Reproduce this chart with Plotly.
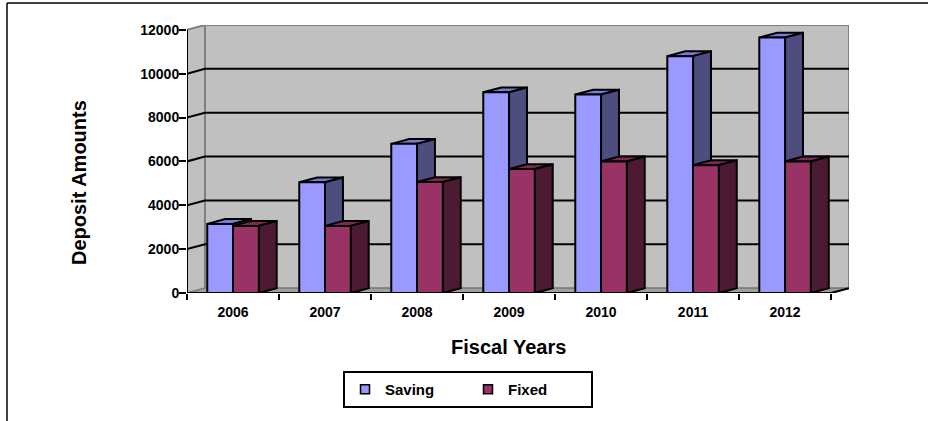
import plotly.graph_objects as go

# ---------------- data ----------------
years = ["2006", "2007", "2008", "2009", "2010", "2011", "2012"]
saving = [3150, 5050, 6800, 9150, 9050, 10800, 11650]
fixed = [3060, 3060, 5060, 5650, 6000, 5830, 6000]
y_ticks = [0, 2000, 4000, 6000, 8000, 10000, 12000]
y_tick_labels = ["0", "2000", "4000", "6000", "8000", "10000", "12000"]
series_names = ["Saving", "Fixed"]

# ---------------- style ----------------
FONT = "Liberation Sans, Arial, sans-serif"
DX = 0.195   # 3-D depth, category units
DY = 220     # 3-D depth, value units
BW = 0.28    # bar width, category units
YMAX = y_ticks[-1]
n = len(years)
x_lo, x_hi = -0.5, n - 0.5

palette = {
    "Saving": dict(front="#9999FF", top="#7A7AD6", side="#4D4D80"),
    "Fixed": dict(front="#993366", top="#7A2952", side="#4D1A33"),
}

fig = go.Figure()


def poly(xs, ys, fill, line_color, lw):
    fig.add_trace(go.Scatter(
        x=xs, y=ys, mode="lines", fill="toself", fillcolor=fill,
        line=dict(color=line_color, width=lw),
        hoverinfo="skip", showlegend=False))


# back wall, left wall, floor
poly([x_lo + DX, x_hi + DX, x_hi + DX, x_lo + DX, x_lo + DX],
     [DY, DY, YMAX + DY, YMAX + DY, DY], "#C0C0C0", "#808080", 2)
poly([x_lo, x_lo + DX, x_lo + DX, x_lo, x_lo],
     [0, DY, YMAX + DY, YMAX, 0], "#C0C0C0", "#808080", 2)
poly([x_lo, x_hi, x_hi + DX, x_lo + DX, x_lo],
     [0, 0, DY, DY, 0], "#A0A0A0", "#808080", 1.5)

# gridlines on walls
gx, gy = [], []
for v in y_ticks[1:-1]:
    gx += [x_lo, x_lo + DX, x_hi + DX, None]
    gy += [v, v + DY, v + DY, None]
fig.add_trace(go.Scatter(x=gx, y=gy, mode="lines",
                         line=dict(color="black", width=2),
                         hoverinfo="skip", showlegend=False))

# 3-D bars
for si, (name, vals) in enumerate(zip(series_names, [saving, fixed])):
    c = palette[name]
    fx, fy, tx, ty, sx, sy = [], [], [], [], [], []
    for i, v in enumerate(vals):
        x0 = i - BW if si == 0 else i
        x1 = x0 + BW
        fx += [x0, x1, x1, x0, x0, None]
        fy += [0, 0, v, v, 0, None]
        tx += [x0, x1, x1 + DX, x0 + DX, x0, None]
        ty += [v, v, v + DY, v + DY, v, None]
        sx += [x1, x1 + DX, x1 + DX, x1, x1, None]
        sy += [0, DY, v + DY, v, 0, None]
    poly(tx, ty, c["top"], "black", 2)
    poly(sx, sy, c["side"], "black", 2)
    poly(fx, fy, c["front"], "black", 2)

# front axis lines
fig.add_trace(go.Scatter(x=[x_lo, x_lo], y=[0, YMAX], mode="lines",
                         line=dict(color="black", width=2),
                         hoverinfo="skip", showlegend=False))
fig.add_trace(go.Scatter(x=[x_lo, x_hi, x_hi + DX], y=[0, 0, DY], mode="lines",
                         line=dict(color="black", width=2),
                         hoverinfo="skip", showlegend=False))

# legend entries
for name in series_names:
    fig.add_trace(go.Scatter(
        x=[None], y=[None], mode="markers", name=name,
        marker=dict(symbol="square", size=9, color=palette[name]["front"],
                    line=dict(color="black", width=1.5))))

L, R, T, B = 187, 79, 25, 128
W, H = 928, 421
pw, ph = W - L - R, H - T - B


def px(xp):
    return (xp - L) / pw


def py(yp):
    return (H - B - yp) / ph


fig.update_layout(
    width=W, height=H,
    margin=dict(l=L, r=R, t=T, b=B),
    paper_bgcolor="white", plot_bgcolor="white",
    font=dict(family=FONT, color="black"),
    showlegend=True,
    legend=dict(orientation="h", x=px(343), xanchor="left",
                y=py(371), yanchor="top",
                bordercolor="black", borderwidth=2,
                font=dict(size=15, weight="bold"),
                entrywidth=78, entrywidthmode="pixels"),
    xaxis=dict(range=[x_lo, x_hi + DX], tickvals=list(range(n)), ticktext=years,
               ticks="outside", ticklen=6, tickcolor="rgba(0,0,0,0)",
               minor=dict(tickvals=[i - 0.5 for i in range(n + 1)], ticks="outside",
                          ticklen=6, tickwidth=2, tickcolor="black"),
               showgrid=False, zeroline=False, showline=False,
               tickfont=dict(size=14, weight="bold")),
    yaxis=dict(range=[0, YMAX + DY], tickvals=y_ticks, ticktext=y_tick_labels,
               ticks="outside", ticklen=7, tickwidth=2, tickcolor="black",
               ticklabelstandoff=-3,
               showgrid=False, zeroline=False, showline=False,
               tickfont=dict(size=14, weight="bold")),
    annotations=[
        dict(text="Deposit Amounts", xref="paper", yref="paper",
             x=px(79), y=py(183), textangle=-90, showarrow=False,
             xanchor="center", yanchor="middle",
             font=dict(size=20, weight="bold")),
        dict(text="Fiscal Years", xref="paper", yref="paper",
             x=px(508), y=py(347), showarrow=False,
             xanchor="center", yanchor="middle",
             font=dict(size=20, weight="bold")),
    ],
    shapes=[
        dict(type="line", xref="paper", yref="paper",
             x0=px(7), x1=px(7), y0=py(3), y1=py(421),
             line=dict(color="black", width=1.5)),
        dict(type="line", xref="paper", yref="paper",
             x0=px(7), x1=px(928), y0=py(3), y1=py(3),
             line=dict(color="black", width=1.5)),
    ],
)

fig.write_html("out.html", config={"displayModeBar": False},
               post_script="document.body.style.margin='0px';")
